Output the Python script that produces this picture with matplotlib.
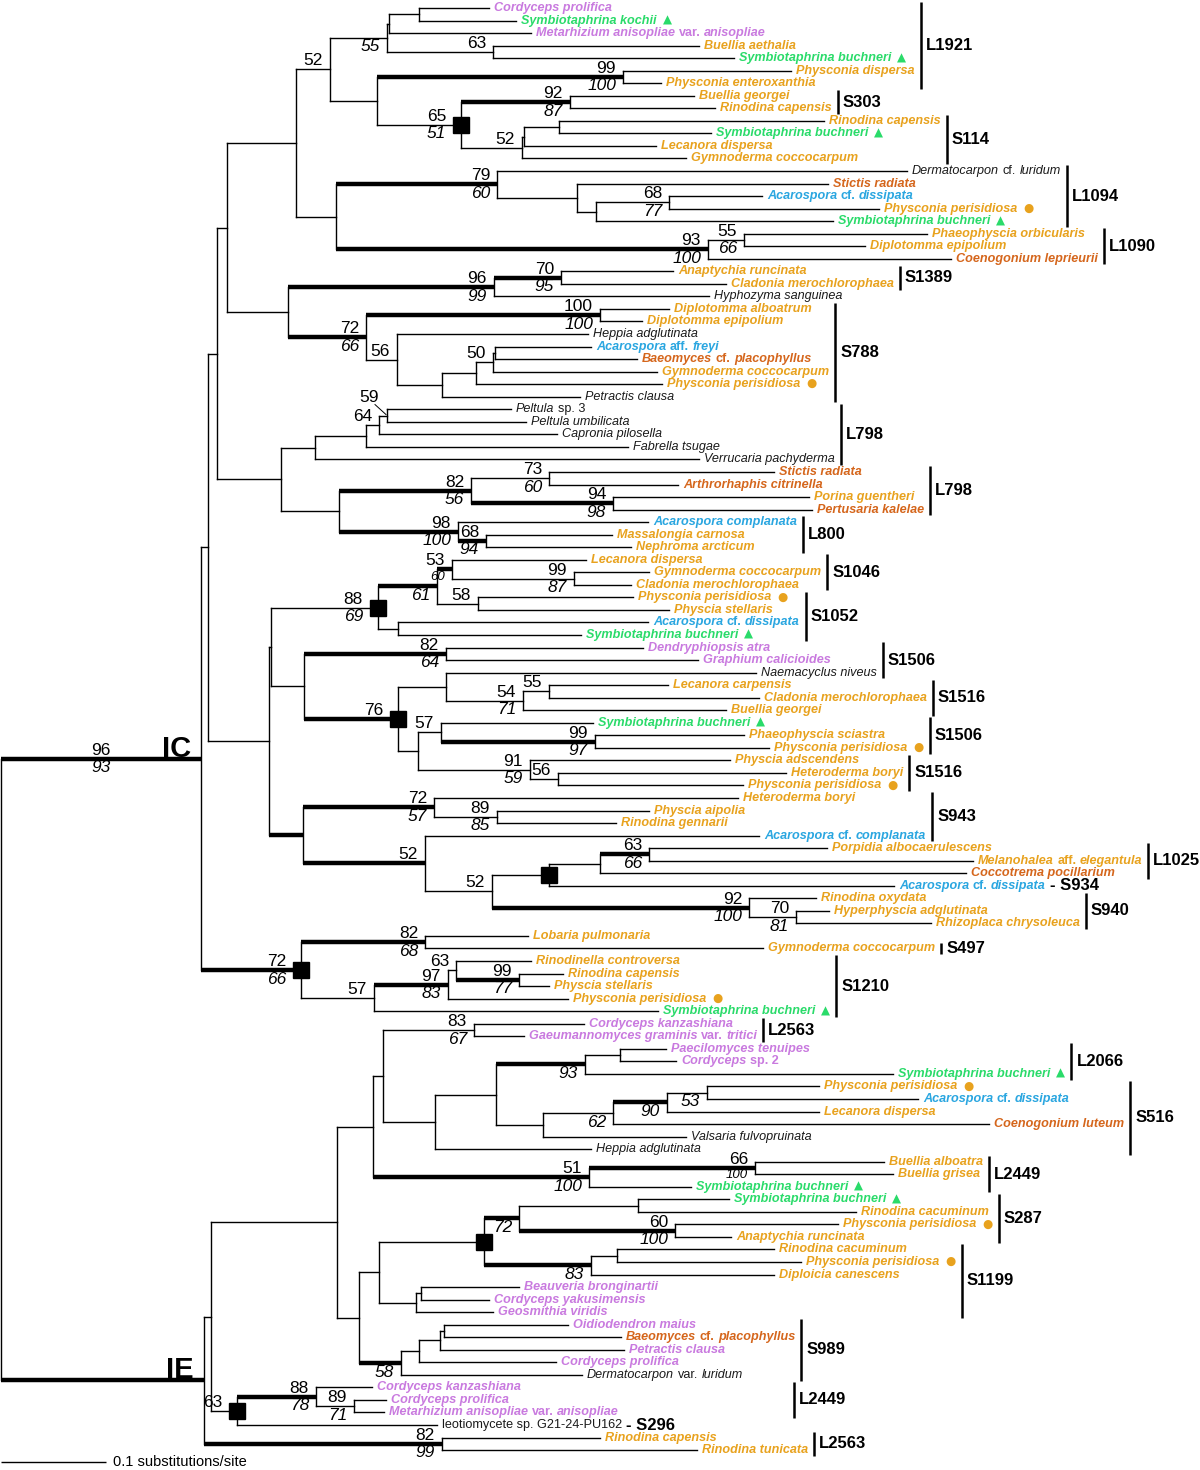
import re
import matplotlib
matplotlib.use("Agg")
import matplotlib.pyplot as plt

plt.rcParams['font.family'] = ['Liberation Sans', 'DejaVu Sans']

# ---------------- data ----------------
TIP_NAMES = [
    "Cordyceps prolifica", "Symbiotaphrina kochii", "Metarhizium anisopliae var. anisopliae",
    "Buellia aethalia", "Symbiotaphrina buchneri", "Physconia dispersa", "Physconia enteroxanthia",
    "Buellia georgei", "Rinodina capensis", "Rinodina capensis", "Symbiotaphrina buchneri",
    "Lecanora dispersa", "Gymnoderma coccocarpum", "Dermatocarpon cf. luridum", "Stictis radiata",
    "Acarospora cf. dissipata", "Physconia perisidiosa", "Symbiotaphrina buchneri",
    "Phaeophyscia orbicularis", "Diplotomma epipolium", "Coenogonium leprieurii",
    "Anaptychia runcinata", "Cladonia merochlorophaea", "Hyphozyma sanguinea",
    "Diplotomma alboatrum", "Diplotomma epipolium", "Heppia adglutinata", "Acarospora aff. freyi",
    "Baeomyces cf. placophyllus", "Gymnoderma coccocarpum", "Physconia perisidiosa",
    "Petractis clausa", "Peltula sp. 3", "Peltula umbilicata", "Capronia pilosella",
    "Fabrella tsugae", "Verrucaria pachyderma", "Stictis radiata", "Arthrorhaphis citrinella",
    "Porina guentheri", "Pertusaria kalelae", "Acarospora complanata", "Massalongia carnosa",
    "Nephroma arcticum", "Lecanora dispersa", "Gymnoderma coccocarpum", "Cladonia merochlorophaea",
    "Physconia perisidiosa", "Physcia stellaris", "Acarospora cf. dissipata", "Symbiotaphrina buchneri",
    "Dendryphiopsis atra", "Graphium calicioides", "Naemacyclus niveus", "Lecanora carpensis",
    "Cladonia merochlorophaea", "Buellia georgei", "Symbiotaphrina buchneri", "Phaeophyscia sciastra",
    "Physconia perisidiosa", "Physcia adscendens", "Heteroderma boryi", "Physconia perisidiosa",
    "Heteroderma boryi", "Physcia aipolia", "Rinodina gennarii", "Acarospora cf. complanata",
    "Porpidia albocaerulescens", "Melanohalea aff. elegantula", "Coccotrema pocillarium",
    "Acarospora cf. dissipata", "Rinodina oxydata", "Hyperphyscia adglutinata",
    "Rhizoplaca chrysoleuca", "Lobaria pulmonaria", "Gymnoderma coccocarpum",
    "Rinodinella controversa", "Rinodina capensis", "Physcia stellaris", "Physconia perisidiosa",
    "Symbiotaphrina buchneri", "Cordyceps kanzashiana", "Gaeumannomyces graminis var. tritici",
    "Paecilomyces tenuipes", "Cordyceps sp. 2", "Symbiotaphrina buchneri", "Physconia perisidiosa",
    "Acarospora cf. dissipata", "Lecanora dispersa", "Coenogonium luteum", "Valsaria fulvopruinata",
    "Heppia adglutinata", "Buellia alboatra", "Buellia grisea", "Symbiotaphrina buchneri",
    "Symbiotaphrina buchneri", "Rinodina cacuminum", "Physconia perisidiosa", "Anaptychia runcinata",
    "Rinodina cacuminum", "Physconia perisidiosa", "Diploicia canescens", "Beauveria bronginartii",
    "Cordyceps yakusimensis", "Geosmithia viridis", "Oidiodendron maius",
    "Baeomyces cf. placophyllus", "Petractis clausa", "Cordyceps prolifica",
    "Dermatocarpon var. luridum", "Cordyceps kanzashiana", "Cordyceps prolifica",
    "Metarhizium anisopliae var. anisopliae", "leotiomycete sp. G21-24-PU162",
    "Rinodina capensis", "Rinodina tunicata",
]

# V violet, G green, O orange, R rust, B blue, K black (plain)
TIP_GROUP = ("V G V O G O O O O O G O O K R B O G O O R O O K O O K B R O O K K K K K K R R O R B O O "
             "O O O O O B G V V K O O O G O O O O O O O O B O O R B O O O O O O O O O G V V V V G O B O "
             "R K K O O G G O O O O O O V V V V R V V K V V V K O O").split()

# distance of each tip from the root (tree units; 105 units = 0.1 substitutions/site)
TIP_DEPTH = [488, 515, 530, 698, 733, 790, 660, 693, 714, 823, 710, 655, 685, 906, 827, 761, 878,
             832, 926, 864, 950, 672, 725, 708, 668, 641, 587, 590, 636, 656, 661, 579, 510, 525,
             556, 627, 698, 773, 677, 808, 811, 647, 611, 630, 585, 648, 630, 632, 668, 647, 580,
             642, 697, 755, 667, 758, 725, 592, 743, 768, 729, 785, 742, 737, 648, 615, 758, 826,
             972, 965, 893, 815, 828, 930, 527, 762, 530, 562, 548, 567, 657, 583, 523, 665, 675,
             892, 818, 917, 818, 988, 685, 590, 883, 892, 690, 728, 855, 837, 730, 773, 800, 773,
             518, 488, 492, 567, 620, 623, 555, 581, 371, 385, 383, 436, 599, 696]

UPRIGHT_TIPS = [114]

# Tree topology: tips are 1-based indices; internal nodes 'top/bottom support' + flags
# (# = thick branch, s = square, ^ = raised label with leader, ~ = small lower label);
# the number after ':' is the node's distance from the root.
A3 = "(((1,2):418,3):388,(4,5)'63':492)'/55':386"
A6 = "(((10,11):558,12):523,13)'52':521"
A7 = "((8,9)'92/87#':569," + A6 + ")'65/51s':460"
A8 = "((6,7)'99/100#':622," + A7 + "):376"
A9 = "(" + A3 + "," + A8 + ")'52':329"
B1 = "(14,(15,((16,17)'68/77':668,18):595):576)'79/60#':496"
B2 = "((19,20)'55/66':743,21)'93/100#':707"
B3 = "(" + B1 + "," + B2 + "):335"
A10 = "(" + A9 + "," + B3 + "):295"
C1 = "((22,23)'70/95#':560,24)'96/99#':493"
C2 = "(25,26)'100/100#':599"
C3 = "(27,((((28,29):494,30)'50':492,31):475,32):441)'56':396"
C4 = "(" + C2 + "," + C3 + ")'72/66#':365"
C5 = "(" + C1 + "," + C4 + "):287"
A11 = "(" + A10 + "," + C5 + "):226"
D1 = "((((33,34)'59^':386,35)'64':378,36):365,37):314"
D2 = "((38,39)'73/60':548,(40,41)'94/98#':612)'82/56#':470"
D3 = "(42,(43,44)'68/94#':485)'98/100#':457"
D4 = "(" + D2 + "," + D3 + "):338"
D5 = "(" + D1 + "," + D4 + "):280"
A12 = "(" + A11 + "," + D5 + "):216"
E1 = "(45,(46,47)'99/87':573)'53/60#~':451"
E2 = "(48,49)'58':477"
E3 = "(" + E1 + "," + E2 + ")'/61#':436"
E4 = "(50,51):397"
E5 = "(" + E3 + "," + E4 + ")'88/69s':377"
F1 = "(52,53)'82/64#':445"
F2 = "(54,((55,56)'55':548,57)'54/71':522):445"
F3 = "(58,(59,60)'99/97#':594)'57':440"
F4 = "(61,(62,63)'56':557)'91/59':529"
F5 = "(" + F3 + "," + F4 + "):417"
F6 = "(" + F2 + "," + F5 + ")'76#s':397"
F7 = "(" + F1 + "," + F6 + "):303"
E6 = "(" + E5 + "," + F7 + "):270"
G1 = "(64,(65,66)'89/85':496)'72/57#':433"
G2 = "(((68,69)'63/66#':648,70):599,71)'s':548"
G3 = "(72,(73,74)'70/81':795)'92/100#':748"
G4 = "(" + G2 + "," + G3 + ")'52':491"
G5 = "(67," + G4 + ")'52#':424"
G6 = "(" + G1 + "," + G5 + ")'#':302"
E7 = "(" + E6 + "," + G6 + "):268"
A13 = "(" + A12 + "," + E7 + "):207"
H1 = "(75,76)'82/68#':424"
H2 = "(((77,(78,79)'99/77#':518)'63':455,80)'97/83#':447,81)'57':373"
H3 = "(" + H1 + "," + H2 + ")'72/66#s':300"
CLADE_IC = "(" + A13 + "," + H3 + ")'96/93#':200"

I1 = "(82,83)'83/67':473"
I2 = "((84,85):619,86)'/93#':584"
I3 = "((((87,88)'/53':706,89)'/90#':666,90)'/62':612,91):542"
I4 = "((" + I2 + "," + I3 + "):495,92):434"
I5 = "(" + I1 + "," + I4 + "):382"
I6 = "((93,94)'66/100#~':754,95)'51/100#':588"
I7 = "(" + I5 + "," + I6 + "):372"
J1 = "((96,97):637,(98,99)'60/100#':674)'/72#':518"
J2 = "((100,101):616,102)'/83#':590"
J3 = "(" + J1 + "," + J2 + ")'s':483"
J4 = "((103,104):420,105):415"
J5 = "(" + J3 + "," + J4 + "):378"
J6 = "((((106,107):443,108):439,109):418,110)'/58#':400"
J7 = "(" + J5 + "," + J6 + "):358"
I8 = "(" + I7 + "," + J7 + "):336"
K1 = "(111,(112,113)'89/71':353)'88/78#':315"
K2 = "(" + K1 + ",114)'63s':236"
K3 = "(" + I8 + "," + K2 + "):210"
K4 = "(115,116)'82/99#':441"
CLADE_IE = "(" + K3 + "," + K4 + ")'#':203"
TREE = "(" + CLADE_IC + "," + CLADE_IE + "):0"
CLADE_NAMES = ["IC", "IE"]

GROUP_LABELS = ["L1921", "S303", "S114", "L1094", "L1090", "S1389", "S788", "L798", "L798", "L800",
                "S1046", "S1052", "S1506", "S1516", "S1506", "S1516", "S943", "L1025", "S940", "S497",
                "S1210", "L2563", "L2066", "S516", "L2449", "S287", "S1199", "S989", "L2449", "L2563"]
GROUP_FIRST = [1, 8, 10, 14, 19, 22, 25, 33, 38, 42, 45, 48, 52, 55, 58, 61, 64, 68, 72, 76,
               77, 82, 84, 87, 93, 96, 100, 106, 111, 115]
GROUP_LAST = [7, 9, 13, 18, 21, 23, 32, 37, 41, 44, 47, 51, 54, 57, 60, 63, 67, 70, 74, 76,
              81, 83, 86, 92, 95, 99, 105, 110, 113, 116]
TAG_LABELS = ["S934", "S296"]
TAG_TIPS = [71, 114]

SCALE_BAR_TEXT = "0.1 substitutions/site"
SCALE_BAR_UNITS = 105

# ---------------- layout / style ----------------
COLORS = {'V': '#C97ADF', 'G': '#2ADB6A', 'O': '#E8A21E', 'R': '#D5661C', 'B': '#2AA6E0', 'K': '#1A1A1A'}
W, H = 1200, 1470
TIP_TOP_PX, TIP_STEP_PX = 8.0, 12.54
PX = 1.0 / TIP_STEP_PX            # one pixel in y units
LW_THIN, LW_THICK = 1.0, 3.2
TIP_FS, SUP_FS, GRP_FS, SMALL_FS = 9.1, 12.5, 12.0, 9.5
LABEL_GAP = 7
QUALIFIERS = {"cf.", "aff.", "var.", "sp."}
BAR_MIN_X = {28: 793}   # group index -> minimum bar position

fig = plt.figure(figsize=(W / 100, H / 100), dpi=100)
ax = fig.add_axes([0, 0, 1, 1])
ax.set_xlim(-1, W - 1)
ax.set_ylim((H - TIP_TOP_PX) / TIP_STEP_PX, -TIP_TOP_PX / TIP_STEP_PX)
ax.axis('off')
renderer = fig.canvas.get_renderer()


def parse(s):
    s = re.sub(r"\s", "", s)
    pos = 0

    def node():
        nonlocal pos
        if s[pos] == '(':
            pos += 1
            kids = [node()]
            while s[pos] == ',':
                pos += 1
                kids.append(node())
            pos += 1  # ')'
            label = ''
            if s[pos] == "'":
                end = s.index("'", pos + 1)
                label = s[pos + 1:end]
                pos = end + 1
            pos += 1  # ':'
            m = re.match(r'[0-9.]+', s[pos:])
            pos += len(m.group())
            return {'kids': kids, 'depth': float(m.group()), 'label': label}
        m = re.match(r'\d+', s[pos:])
        pos += len(m.group())
        i = int(m.group()) - 1
        return {'kids': [], 'tip': i, 'depth': TIP_DEPTH[i], 'label': ''}
    return node()


root = parse(TREE)


def set_y(n):
    if not n['kids']:
        n['y'] = float(n['tip'])
    else:
        ys = [set_y(k) for k in n['kids']]
        n['y'] = (min(ys) + max(ys)) / 2
    return n['y']


set_y(root)


def draw(n, parent):
    lab = n['label']
    thick = '#' in lab
    square = 's' in lab
    raised = '^' in lab
    small = '~' in lab
    txt = re.sub(r"[#s^~]", "", lab)
    if parent is not None:
        ax.plot([parent['depth'], n['depth']], [n['y'], n['y']], color='k',
                lw=LW_THICK if thick else LW_THIN, solid_capstyle='butt' if thick else 'projecting',
                zorder=2)
    if n['kids']:
        ys = [k['y'] for k in n['kids']]
        ax.plot([n['depth'], n['depth']], [min(ys), max(ys)], color='k', lw=LW_THIN,
                solid_capstyle='projecting', zorder=2)
    if square:
        ax.plot(n['depth'], n['y'], 's', ms=11.5, color='k', zorder=3)
    if txt and parent is not None:
        top, _, bot = txt.partition('/')
        if parent is root:
            xr, ha = (parent['depth'] + n['depth']) / 2, 'center'
        else:
            xr, ha = n['depth'] - LABEL_GAP - (8 if square else 0), 'right'
        if raised:
            ax.text(n['depth'] - 8, n['y'] - 11 * PX, top, ha='right', va='bottom',
                    fontsize=SUP_FS, color='k')
            ax.plot([n['depth'] - 12, n['depth'] - 1], [n['y'] - 11 * PX, n['y'] - 1 * PX],
                    color='k', lw=0.7)
        elif top:
            ax.text(xr, n['y'] - 1 * PX, top, ha=ha, va='bottom', fontsize=SUP_FS, color='k')
        if bot:
            ax.text(xr, n['y'] + 1.5 * PX, bot, ha=ha, va='top',
                    fontsize=SMALL_FS if small else SUP_FS, style='italic', color='k')
    for k in n['kids']:
        draw(k, n)


draw(root, None)

# clade names
for name, child in zip(CLADE_NAMES, root['kids']):
    ax.text(child['depth'] - 10, child['y'] - 2 * PX, name, ha='right', va='baseline',
            fontsize=21, fontweight='bold', color='k')


def width(t):
    return t.get_window_extent(renderer).width


space_cache = {}


def space_w(weight, style):
    key = (weight, style)
    if key not in space_cache:
        a = ax.text(0, 0, "xx", fontsize=TIP_FS, fontweight=weight, style=style)
        b = ax.text(0, 0, "x x", fontsize=TIP_FS, fontweight=weight, style=style)
        space_cache[key] = width(b) - width(a)
        a.remove()
        b.remove()
    return space_cache[key]


tip_end = [0.0] * len(TIP_NAMES)
for i, name in enumerate(TIP_NAMES):
    grp = TIP_GROUP[i]
    col = COLORS[grp]
    weight = 'normal' if grp == 'K' else 'bold'
    upright_all = (i + 1) in UPRIGHT_TIPS
    words = name.split(' ')
    pieces = []
    prev_q = False
    for w in words:
        up = upright_all or w in QUALIFIERS or (prev_q and w[0].isdigit())
        prev_q = w == "sp."
        style = 'normal' if up else 'italic'
        if pieces and pieces[-1][1] == style:
            pieces[-1][0] += ' ' + w
        else:
            pieces.append([w, style])
    x = TIP_DEPTH[i] + 5
    for j, (p, style) in enumerate(pieces):
        t = ax.text(x, i, p, ha='left', va='center', fontsize=TIP_FS, fontweight=weight,
                    style=style, color=col)
        x += width(t)
        if j < len(pieces) - 1:
            x += space_w(weight, style)
    mark = None
    if name.startswith("Symbiotaphrina"):
        mark = '\u25B2'
    elif name == "Physconia perisidiosa":
        mark = '\u25CF'
    if mark:
        t = ax.text(x + 6, i - 0.5 * PX, mark, ha='left', va='center', fontsize=8.5,
                    color=col, family='DejaVu Sans')
        x += 6 + width(t)
    tip_end[i] = x

for lab, ti in zip(TAG_LABELS, TAG_TIPS):
    ax.text(tip_end[ti - 1] + 4, ti - 1, "- " + lab, ha='left', va='center', fontsize=GRP_FS,
            fontweight='bold', color='k')

for g, (lab, a, b) in enumerate(zip(GROUP_LABELS, GROUP_FIRST, GROUP_LAST)):
    bx = max(tip_end[a - 1:b]) + 6
    if g in BAR_MIN_X:
        bx = max(bx, BAR_MIN_X[g])
    y0, y1 = a - 1 - 0.45, b - 1 + 0.45
    ax.plot([bx, bx], [y0, y1], color='k', lw=1.8, solid_capstyle='butt')
    ax.text(bx + 5, (y0 + y1) / 2, lab, ha='left', va='center', fontsize=GRP_FS,
            fontweight='bold', color='k')

# scale bar
ysb = (1462 - TIP_TOP_PX) / TIP_STEP_PX
ax.plot([0, SCALE_BAR_UNITS], [ysb, ysb], color='k', lw=1.0, solid_capstyle='butt')
ax.text(SCALE_BAR_UNITS + 7, ysb, SCALE_BAR_TEXT, ha='left', va='center', fontsize=10.5, color='k')

fig.savefig("out.png", dpi=100)
